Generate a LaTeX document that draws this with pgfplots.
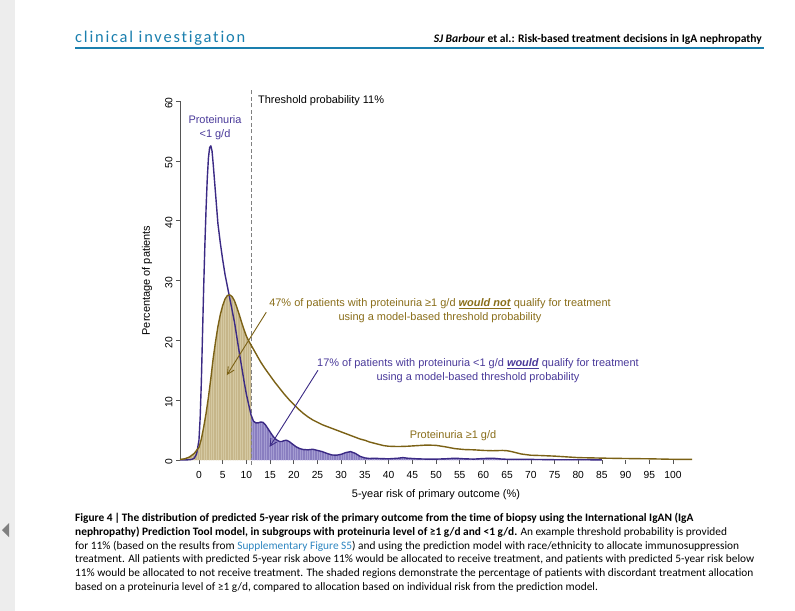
\documentclass[border=0pt]{standalone}
\usepackage{pgfplots}
\pgfplotsset{compat=1.18}
\usepackage{pgfplotstable}
\usepackage{fontspec}
\setmainfont{Liberation Sans}
\newfontfamily\capfont[Ligatures=NoCommon]{Carlito}
\newfontfamily\headfont[LetterSpace=11, Ligatures=NoCommon]{Carlito}
\usetikzlibrary{arrows.meta,patterns.meta}

\definecolor{brownline}{HTML}{7B6115}
\definecolor{browntext}{HTML}{8A6E1A}
\definecolor{brownfill}{HTML}{C6B68A}
\definecolor{brownhatch}{HTML}{D5C9A2}
\definecolor{purpleline}{HTML}{3B2A85}
\definecolor{purpletext}{HTML}{4A3A9A}
\definecolor{purplefill}{HTML}{897EC0}
\definecolor{purplehatch}{HTML}{A49CD2}
\definecolor{axisgray}{HTML}{555555}
\definecolor{headblue}{HTML}{1A7FAE}
\definecolor{linkblue}{HTML}{2E86C1}

% proteinuria >= 1 g/d
\pgfplotstableread{
x y
-4 0.1
-3 0.2
-2 0.5
-1 1.1
0 2.1
0.5 3.5
1 5.5
1.5 7.8
2 10.5
2.5 13.6
3 17.0
3.5 19.8
4 22.3
4.5 24.3
5 25.8
5.5 26.9
6 27.5
6.5 27.6
7 27.3
7.5 26.6
8 25.5
8.5 24.3
9 23.0
9.5 21.8
10 20.7
10.5 19.9
11 19.2
12 17.8
13 16.4
14 15.2
15 14.1
16 13.0
17 12.0
18 11.0
19 10.1
20 9.3
21 8.5
22 7.8
23 7.2
24 6.7
25 6.3
26 5.9
27 5.6
28 5.3
29 5.0
30 4.7
31 4.4
32 4.1
33 3.8
34 3.5
35 3.3
36 3.0
37 2.8
38 2.6
39 2.4
40 2.3
42 2.25
44 2.3
46 2.4
48 2.5
50 2.45
52 2.2
54 1.9
56 1.75
58 1.7
60 1.6
62 1.55
64 1.6
65 1.55
66 1.4
68 1.0
70 0.8
72 0.75
75 0.65
78 0.5
80 0.4
83 0.35
86 0.3
90 0.25
95 0.2
100 0.12
104 0.1
}\highprot

% proteinuria < 1 g/d
\pgfplotstableread{
x y
-4 0
-3 0
-2 0.05
-1.5 0.1
-1 0.3
-0.5 1.0
0 3.3
0.25 7
0.5 13
0.75 21
1 29
1.25 36
1.5 42
1.75 47
2 50.5
2.25 52.2
2.5 52.5
2.75 51.7
3 49.5
3.5 44.5
4 39.5
4.5 36.3
5 33.5
5.5 31
6 29
6.5 27
7 25
7.5 23
8 20.5
8.5 18
9 15.6
9.5 13.2
10 11.0
10.5 9.2
11 7.5
11.5 6.5
12 6.2
12.5 6.2
13 6.35
13.5 6.3
14 5.9
14.5 5.3
15 4.7
15.5 4.1
16 3.6
16.5 3.3
17 3.1
17.5 3.1
18 3.25
18.5 3.3
19 3.1
19.5 2.8
20 2.5
20.5 2.2
21 2.0
21.5 1.85
22 1.75
23 1.7
24 1.8
25 1.6
26 1.4
27 1.1
28 0.85
29 0.8
30 0.95
31 1.25
32 1.4
33 1.1
34 0.6
35 0.35
36 0.25
37 0.3
38 0.25
40 0.2
42 0.3
43 0.4
44 0.3
46 0.2
48 0.15
50 0.15
52 0.2
54 0.3
56 0.2
58 0.15
60 0.25
62 0.3
64 0.15
66 0.1
70 0.1
75 0.05
80 0.05
85 0.02
}\lowprot

\begin{document}
\begin{tikzpicture}
\fill[white] (0,0) rectangle (795bp,-611bp);
\path[use as bounding box] (0,0) rectangle (795bp,-611bp);

\begin{axis}[
  at={(180bp,-460bp)}, anchor=south west,
  scale only axis, width=512bp, height=359bp,
  xmin=-4, xmax=104, ymin=0, ymax=60,
  axis lines=left,
  x axis line style={draw=none},
  y axis line style={-, draw=axisgray, line width=0.6bp},
  xtick={0,5,...,100}, ytick={0,10,...,60},
  tick align=outside, major tick length=4bp,
  every tick/.style={axisgray, line width=0.6bp},
  /pgf/number format/assume math mode=true,
  tick label style={font=\fontsize{10.3}{12}\selectfont},
  xticklabel style={yshift=-3.5bp},
  yticklabel style={rotate=90, anchor=south, xshift=-2bp},
  xlabel={5-year risk of primary outcome (\%)},
  ylabel={Percentage of patients},
  label style={font=\fontsize{11}{13}\selectfont},
  xlabel style={at={(axis description cs:0.5,-0.0975)}, anchor=center},
  ylabel style={at={(axis description cs:-0.0645,0.5)}, anchor=center},
  clip=false,
]
% shaded discordant regions
\addplot[draw=none, fill=brownfill, restrict x to domain=-4:11] table {\highprot} \closedcycle;
\addplot[draw=none, pattern={Lines[angle=90,distance=2.4bp,line width=0.6bp]}, pattern color=brownhatch, restrict x to domain=-4:11] table {\highprot} \closedcycle;
\addplot[draw=none, fill=purplefill, restrict x to domain=11:85] table {\lowprot} \closedcycle;
\addplot[draw=none, pattern={Lines[angle=90,distance=2.4bp,line width=0.6bp]}, pattern color=purplehatch, restrict x to domain=11:85] table {\lowprot} \closedcycle;

% threshold
\addplot[gray, line width=0.8bp, dash pattern=on 4bp off 2.5bp] coordinates {(11,-0.8) (11,61.8)};

% density curves
\addplot[purpleline, line width=1.4bp, line join=round] table {\lowprot};
\addplot[brownline, line width=1.4bp, line join=round] table {\highprot};

% arrows
\draw[brownline, line width=0.9bp, -{Straight Barb[length=7bp,width=7bp]}] (axis cs:14.2,24.7) -- (axis cs:5.9,14.2);
\draw[purpleline, line width=0.9bp, -{Straight Barb[length=7bp,width=7bp]}] (axis cs:25.1,15) -- (axis cs:14.9,2.2);
\end{axis}

\begin{scope}[x=1bp, y=-1bp]
% left viewer strip
\fill[black!7] (0,0) rectangle (15,611);
\fill[black!50] (2,530) -- (9,523) -- (9,537) -- cycle;

% running head
\node[anchor=base west, inner sep=0, text=headblue, font=\headfont\fontsize{16.5}{19}\selectfont] at (75,42.5) {clinical investigation};
\node[anchor=base east, inner sep=0, font=\capfont\bfseries\fontsize{11.6}{13}\selectfont] at (762,42) {\textit{SJ Barbour} et al.: Risk-based treatment decisions in IgA nephropathy};
\draw[headblue, line width=2.5bp] (75,48) -- (764,48);

% in-plot texts
\node[anchor=west, inner sep=0, font=\fontsize{11}{13}\selectfont] at (258,101) {Threshold probability 11\%};
\node[align=center, inner sep=0, text=purpletext, font=\fontsize{11}{14.5}\selectfont] at (215,127.5) {Proteinuria\\<1 g/d};
\node[align=center, inner sep=0, text=browntext, font=\fontsize{11}{14}\selectfont] at (440,311)
  {47\% of patients with proteinuria ≥1 g/d \underline{\textbf{\textit{would not}}} qualify for treatment\\using a model-based threshold probability};
\node[align=center, inner sep=0, text=purpletext, font=\fontsize{11}{14}\selectfont] at (478,371)
  {17\% of patients with proteinuria <1 g/d \underline{\textbf{\textit{would}}} qualify for treatment\\using a model-based threshold probability};
\node[inner sep=0, text=browntext, font=\fontsize{11}{13}\selectfont] at (453,436) {Proteinuria ≥1 g/d};

% caption
\begin{scope}[every node/.style={anchor=base west, inner sep=0, font=\capfont\fontsize{11.4}{13}\selectfont}]
\node at (75,521.5) {\textbf{Figure 4\,|\,The distribution of predicted 5-year risk of the primary outcome from the time of biopsy using the International IgAN (IgA}};
\node at (75,535.3) {\textbf{nephropathy) Prediction Tool model, in subgroups with proteinuria level of ≥1 g/d and <1 g/d.} An example threshold probability is provided};
\node at (75,549.1) {for 11\% (based on the results from \textcolor{linkblue}{Supplementary Figure S5}) and using the prediction model with race/ethnicity to allocate immunosuppression};
\node at (75,562.9) {treatment. All patients with predicted 5-year risk above 11\% would be allocated to receive treatment, and patients with predicted 5-year risk below};
\node at (75,576.7) {11\% would be allocated to not receive treatment. The shaded regions demonstrate the percentage of patients with discordant treatment allocation};
\node at (75,590.5) {based on a proteinuria level of ≥1 g/d, compared to allocation based on individual risk from the prediction model.};
\end{scope}
\end{scope}
\end{tikzpicture}
\end{document}
